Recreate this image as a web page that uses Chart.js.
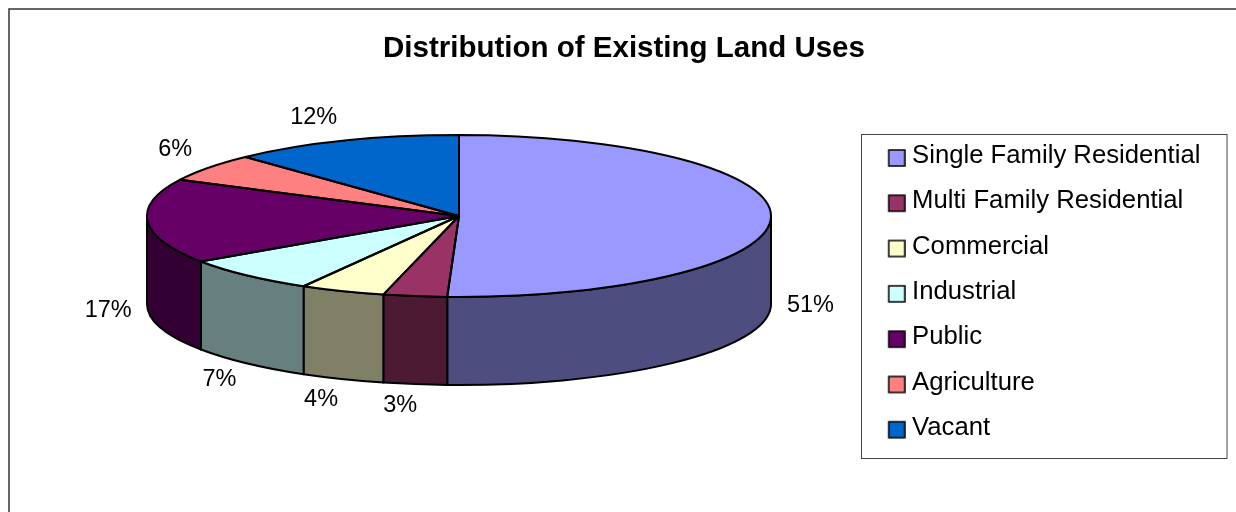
<!DOCTYPE html>
<html><head><meta charset="utf-8">
<style>html,body{margin:0;padding:0;background:#fff}canvas{display:block}</style>
<script src="https://cdn.jsdelivr.net/npm/chart.js@4/dist/chart.umd.min.js"></script>
</head><body><canvas id="c" width="1236" height="512"></canvas>
<script>
const categories = ["Single Family Residential","Multi Family Residential","Commercial","Industrial","Public","Agriculture","Vacant"];
const shares = [50.6,3.3,4.4,7.2,16.9,5.6,12.0];
const colors = ["#9999FF","#993366","#FFFFCC","#CCFFFF","#660066","#FF8080","#0066CC"];
const chartTitle = "Distribution of Existing Land Uses";

const FONT = "'Liberation Sans', Arial, sans-serif";
const PIE = {cx:459, cy:216, rx:312, ry:81, depth:88, base:100};
const FS = 25.7;

function darker(hex){
  const n = parseInt(hex.slice(1),16);
  const f = v => Math.round(v/2);
  return `rgb(${f(n>>16&255)},${f(n>>8&255)},${f(n&255)})`;
}
function swatch(color){
  const cv = document.createElement('canvas');
  cv.width = 22; cv.height = 26;
  const g = cv.getContext('2d');
  g.fillStyle = color; g.fillRect(5,7,16,16);
  g.strokeStyle = '#000'; g.lineWidth = 1.5; g.strokeRect(5,7,16,16);
  return cv;
}
const pie3d = {
  id:'pie3d',
  afterLayout(chart){
    chart.legend.left = 870.6; chart.legend.top = 123.5;
  },
  beforeDatasetsDraw(chart){
    const ctx = chart.ctx, arcs = chart.getDatasetMeta(0).data;
    const {cx,cy,rx,ry,depth} = PIE;
    arcs.forEach((a,i)=>{
      const s = Math.max(a.startAngle,0), e = Math.min(a.endAngle,Math.PI);
      if (e <= s) return;
      ctx.beginPath();
      ctx.ellipse(cx,cy,rx,ry,0,s,e);
      ctx.ellipse(cx,cy+depth,rx,ry,0,e,s,true);
      ctx.closePath();
      ctx.fillStyle = darker(colors[i]); ctx.fill();
      ctx.strokeStyle = '#000'; ctx.lineWidth = 2; ctx.lineJoin='round'; ctx.stroke();
    });
    const a0 = arcs[0];
    ctx.save();
    ctx.translate(cx,cy);
    ctx.scale(rx/PIE.base, ry/PIE.base);
    ctx.translate(-a0.x,-a0.y);
  },
  afterDatasetsDraw(chart){
    const ctx = chart.ctx, arcs = chart.getDatasetMeta(0).data;
    ctx.restore();
    const {cx,cy,rx,ry,depth} = PIE;
    ctx.strokeStyle='#000'; ctx.lineWidth=2; ctx.lineJoin='round';
    arcs.forEach(a=>{
      ctx.beginPath();
      ctx.moveTo(cx,cy);
      ctx.ellipse(cx,cy,rx,ry,0,a.startAngle,a.endAngle);
      ctx.closePath();
      ctx.stroke();
    });
    ctx.font = `23.5px ${FONT}`;
    ctx.fillStyle = '#000'; ctx.textAlign='center'; ctx.textBaseline='middle';
    arcs.forEach((a,i)=>{
      const m = (a.startAngle+a.endAngle)/2, c = Math.cos(m), sn = Math.sin(m);
      const t = Math.round(shares[i])+'%';
      const hw = ctx.measureText(t).width/2, ac = Math.abs(c), as = Math.abs(sn);
      const x = cx + rx*c + Math.sign(c)*(hw*Math.pow(ac,0.2) + 16*Math.pow(ac,0.8) + (sn<0?4:0));
      const y = cy + ry*sn + (sn>0 ? depth + sn*22 : 2-(12+14*as));
      ctx.fillText(t,x,y);
    });
  },
  beforeDraw(chart){
    const ctx = chart.ctx;
    ctx.save();
    ctx.fillStyle='#fff'; ctx.fillRect(0,0,chart.width,chart.height);
    ctx.strokeStyle='#333'; ctx.lineWidth=1.5;
    ctx.beginPath(); ctx.moveTo(9,512); ctx.lineTo(9,9); ctx.lineTo(1236,9); ctx.stroke();
    ctx.strokeStyle='#444'; ctx.lineWidth=1;
    ctx.strokeRect(861.5,134.5,365.5,324);
    ctx.restore();
  }
};
new Chart(document.getElementById('c'),{
  type:'pie',
  data:{labels:categories,datasets:[{data:shares,backgroundColor:colors,borderWidth:0,clip:false}]},
  plugins:[pie3d],
  options:{
    responsive:false,animation:false,radius:PIE.base,
    layout:{padding:{left:12,right:0,top:0,bottom:0}},
    plugins:{
      tooltip:{enabled:false},
      title:{display:true,text:chartTitle,color:'#000',font:{family:FONT,size:29.5,weight:'bold',lineHeight:1.2},padding:{top:31,bottom:10}},
      legend:{display:true,position:'right',align:'start',
        labels:{color:'#000',font:{family:FONT,size:FS,lineHeight:1.2},padding:19.6,boxWidth:9,boxHeight:9,usePointStyle:true,
          generateLabels(chart){
            return categories.map((t,i)=>({text:t,fontColor:'#000',pointStyle:swatch(colors[i]),index:i,hidden:false,lineWidth:0}));
          }}}
    }
  }
});
</script></body></html>
